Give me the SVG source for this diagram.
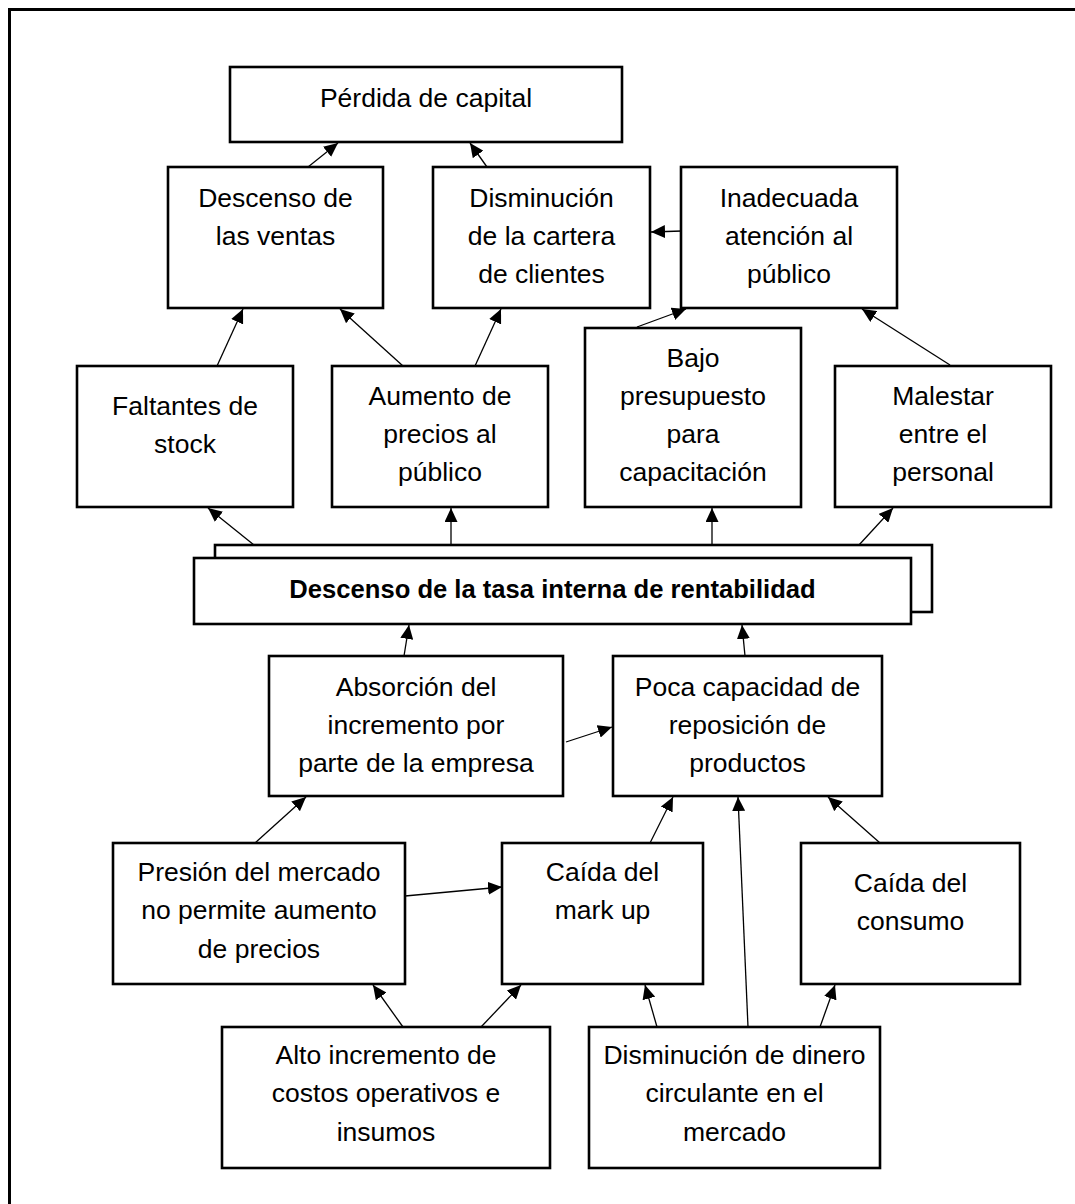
<svg xmlns="http://www.w3.org/2000/svg" width="1075" height="1204" viewBox="0 0 1075 1204">
<style>
.box{fill:#fff;stroke:#000;stroke-width:2.6}
.t{font-family:"Liberation Sans",Arial,sans-serif;font-size:26.5px;fill:#000;text-anchor:middle}
.tb{font-weight:bold;font-size:25.6px}
.c line{stroke:#000;stroke-width:1.3;marker-end:url(#ah)}
</style>
<defs>
<marker id="ah" markerUnits="userSpaceOnUse" markerWidth="15" markerHeight="13" refX="14" refY="6.5" orient="auto">
<path d="M0,0 L14,6.5 L0,13 z" fill="#000"/>
</marker>
</defs>
<rect width="1075" height="1204" fill="#fff"/>
<path d="M9.5,1204 V9.5 H1075" fill="none" stroke="#000" stroke-width="3"/>

<g id="n-perdida"><rect class="box" x="230" y="67" width="392" height="75"/>
<text class="t" x="426" y="107">Pérdida de capital</text></g>

<g id="n-descenso-ventas"><rect class="box" x="168" y="167" width="215" height="141"/>
<text class="t" x="275.5" y="207">Descenso de</text><text class="t" x="275.5" y="245">las ventas</text></g>

<g id="n-disminucion-cartera"><rect class="box" x="433" y="167" width="217" height="141"/>
<text class="t" x="541.5" y="207">Disminución</text><text class="t" x="541.5" y="245">de la cartera</text><text class="t" x="541.5" y="283">de clientes</text></g>

<g id="n-inadecuada"><rect class="box" x="681" y="167" width="216" height="141"/>
<text class="t" x="789" y="207">Inadecuada</text><text class="t" x="789" y="245">atención al</text><text class="t" x="789" y="283">público</text></g>

<g id="n-faltantes"><rect class="box" x="77" y="366" width="216" height="141"/>
<text class="t" x="185" y="415">Faltantes de</text><text class="t" x="185" y="453">stock</text></g>

<g id="n-aumento"><rect class="box" x="332" y="366" width="216" height="141"/>
<text class="t" x="440" y="405">Aumento de</text><text class="t" x="440" y="443">precios al</text><text class="t" x="440" y="481">público</text></g>

<g id="n-bajo"><rect class="box" x="585" y="328" width="216" height="179"/>
<text class="t" x="693" y="367">Bajo</text><text class="t" x="693" y="405">presupuesto</text><text class="t" x="693" y="443">para</text><text class="t" x="693" y="481">capacitación</text></g>

<g id="n-malestar"><rect class="box" x="835" y="366" width="216" height="141"/>
<text class="t" x="943" y="405">Malestar</text><text class="t" x="943" y="443">entre el</text><text class="t" x="943" y="481">personal</text></g>

<g id="n-tasa"><rect class="box" x="215" y="545" width="717" height="67"/>
<rect class="box" x="194" y="558" width="717" height="66"/>
<text class="t tb" x="552.5" y="598">Descenso de la tasa interna de rentabilidad</text></g>

<g id="n-absorcion"><rect class="box" x="269" y="656" width="294" height="140"/>
<text class="t" x="416" y="696">Absorción del</text><text class="t" x="416" y="734">incremento por</text><text class="t" x="416" y="772">parte de la empresa</text></g>

<g id="n-poca"><rect class="box" x="613" y="656" width="269" height="140"/>
<text class="t" x="747.5" y="696">Poca capacidad de</text><text class="t" x="747.5" y="734">reposición de</text><text class="t" x="747.5" y="772">productos</text></g>

<g id="n-presion"><rect class="box" x="113" y="843" width="292" height="141"/>
<text class="t" x="259" y="881">Presión del mercado</text><text class="t" x="259" y="919">no permite aumento</text><text class="t" x="259" y="958">de precios</text></g>

<g id="n-markup"><rect class="box" x="502" y="843" width="201" height="141"/>
<text class="t" x="602.5" y="881">Caída del</text><text class="t" x="602.5" y="919">mark up</text></g>

<g id="n-consumo"><rect class="box" x="801" y="843" width="219" height="141"/>
<text class="t" x="910.5" y="892">Caída del</text><text class="t" x="910.5" y="930">consumo</text></g>

<g id="n-alto"><rect class="box" x="222" y="1027" width="328" height="141"/>
<text class="t" x="386" y="1064">Alto incremento de</text><text class="t" x="386" y="1102">costos operativos e</text><text class="t" x="386" y="1141">insumos</text></g>

<g id="n-dinero"><rect class="box" x="589" y="1027" width="291" height="141"/>
<text class="t" x="734.5" y="1064">Disminución de dinero</text><text class="t" x="734.5" y="1102">circulante en el</text><text class="t" x="734.5" y="1141">mercado</text></g>

<g id="connectors" class="c">
<line x1="308" y1="167" x2="338" y2="143"/>
<line x1="487" y1="167" x2="470" y2="143"/>
<line x1="682" y1="231" x2="651" y2="232"/>
<line x1="637" y1="327" x2="686" y2="309"/>
<line x1="950" y1="365" x2="862" y2="309"/>
<line x1="217" y1="366" x2="243" y2="309"/>
<line x1="403" y1="366" x2="340" y2="309"/>
<line x1="475" y1="366" x2="501" y2="309"/>
<line x1="254" y1="545" x2="208" y2="508"/>
<line x1="451" y1="545" x2="451" y2="508"/>
<line x1="712" y1="545" x2="712" y2="508"/>
<line x1="859" y1="545" x2="893" y2="508"/>
<line x1="404" y1="656" x2="409" y2="625"/>
<line x1="745" y1="656" x2="742" y2="625"/>
<line x1="566" y1="742" x2="612" y2="727"/>
<line x1="255" y1="843" x2="306" y2="797"/>
<line x1="650" y1="843" x2="673" y2="797"/>
<line x1="748" y1="1027" x2="738" y2="797"/>
<line x1="880" y1="843" x2="828" y2="797"/>
<line x1="405" y1="896" x2="502" y2="887"/>
<line x1="403" y1="1027" x2="373" y2="985"/>
<line x1="481" y1="1027" x2="521" y2="985"/>
<line x1="657" y1="1027" x2="645" y2="985"/>
<line x1="820" y1="1027" x2="835" y2="985"/>
</g>
</svg>
